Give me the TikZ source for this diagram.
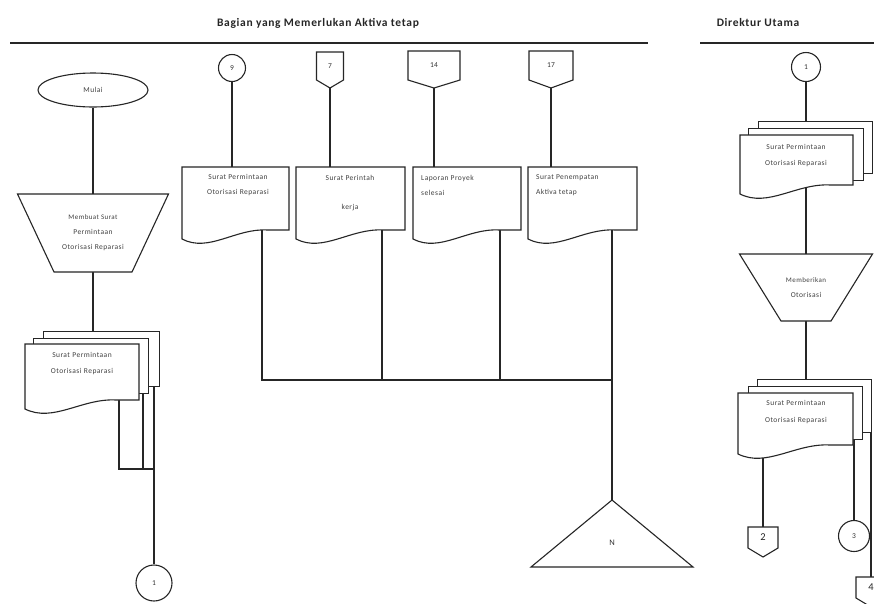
\documentclass[tikz,border=0pt]{standalone}
\usepackage{fontspec}
\setmainfont{Carlito}
\usetikzlibrary{calc,shapes.geometric}
\pgfdeclarelayer{bg}
\pgfsetlayers{bg,main}

\tikzset{
  ln/.style={line width=1.1pt, draw=black!85},
  txt/.style={font=\fontsize{7.5}{15}\selectfont\addfontfeature{LetterSpace=6}, text=black!75, align=center, inner sep=0pt},
  num/.style={font=\fontsize{7.5}{9}\selectfont, text=black!80, inner sep=0pt},
  bignum/.style={font=\fontsize{10.5}{12}\selectfont, text=black!85, inner sep=0pt},
  ttl/.style={font=\fontsize{11.5}{13}\selectfont\bfseries\addfontfeature{LetterSpace=6}, text=black!85, inner sep=0pt},
  circ/.style={ln, circle, fill=white, inner sep=0pt, num},
  sheet/.style={ln, fill=white, rectangle, inner sep=0pt, anchor=north west},
  hidden/.style={inner sep=0pt, outer sep=0pt}
}

% document symbol: name, left, top, width, height of the left edge
\newcommand\docsheet[5]{%
  \node[hidden, minimum width=#4pt, minimum height=#5pt, anchor=north west] (#1) at (#2,#3) {};
  \draw[ln, fill=white] (#1.north west) -- (#1.north east) -- ($(#1.south east)+(0,9pt)$)
    -- ($(#1.south west)!0.8!(#1.south east)+(0,9pt)$)
    .. controls ($(#1.south west)!0.5!(#1.south east)+(0,11pt)$)
       and ($(#1.south west)!0.25!(#1.south east)+(0,-14pt)$) .. (#1.south west) -- cycle;
}
% manual operation: name, cx, cy, top width, bottom width, height, text
\newcommand\manualop[7]{%
  \draw[ln, fill=white] (#2-#4/2,#3-#6/2) -- (#2+#4/2,#3-#6/2) -- (#2+#5/2,#3+#6/2) -- (#2-#5/2,#3+#6/2) -- cycle;
  \node[hidden, txt, minimum width=#4pt, minimum height=#6pt] (#1) at (#2,#3) {#7};
}
% off-page connector: name, cx, top, width, box height, point depth, style, text
\newcommand\offpage[8]{%
  \draw[ln, fill=white] (#2-#4/2,#3) -- (#2+#4/2,#3) -- (#2+#4/2,#3+#5) -- (#2,#3+#5+#6) -- (#2-#4/2,#3+#5) -- cycle;
  \node[hidden, #7, minimum width=#4pt, minimum height=#5pt, anchor=north] (#1) at (#2,#3) {#8};
}

\begin{document}
\begin{tikzpicture}[x=1pt, y=-1pt]
\useasboundingbox (0,0) rectangle (874,603);
\begin{pgfonlayer}{bg}
  \fill[white] (0,0) rectangle (874,603);
\end{pgfonlayer}

% lane headers
\node[ttl] (lane1) at (318,23) {Bagian yang Memerlukan Aktiva tetap};
\node[ttl] (lane2) at (758,23) {Direktur Utama};
\draw[ln] (10,43) -- (648,43);
\draw[ln] (700,43) -- (874,43);

% ---- left column ----
\node[ln, ellipse, fill=white, minimum width=110pt, minimum height=34pt, txt] (mulai) at (93,90) {Mulai};
\manualop{trap1}{93}{233}{151}{78}{78}{\fontsize{7}{13.5}\selectfont Membuat Surat\\Permintaan\\Otorisasi Reparasi}
\node[sheet, minimum width=116pt, minimum height=55pt] (lback) at (43,331) {};
\node[sheet, minimum width=115pt, minimum height=55pt] (lmid) at (33,338) {};
\docsheet{lfront}{25}{344}{114}{65}
\node[txt, text width=110pt, font=\fontsize{7.5}{16}\selectfont\addfontfeature{LetterSpace=6}] (lfronttext) at (82,364) {Surat Permintaan\\Otorisasi Reparasi};
\node[circ, minimum size=36pt] (c1) at (154,583) {1};

% ---- incoming documents ----
\node[circ, minimum size=27pt] (c9) at (232,68) {9};
\offpage{op7}{330}{52}{27}{28}{8}{num}{7}
\offpage{op14}{434}{51}{52}{29}{8}{num}{14}
\offpage{op17}{551}{51}{44}{29}{8}{num}{17}

\docsheet{doc1}{182}{167}{107}{72}
\docsheet{doc2}{296}{167}{109}{72}
\docsheet{doc3}{413}{167}{108}{72}
\docsheet{doc4}{528}{167}{109}{72}
\node[txt] (doc1text) at (238,185.5) {Surat Permintaan\\Otorisasi Reparasi};
\node[txt] (doc2text) at (350,193.5) {Surat Perintah\\[14pt]kerja};
\node[txt, anchor=west, align=left] (doc3text) at (421,185.5) {Laporan Proyek\\selesai};
\node[txt, anchor=west, align=left] (doc4text) at (536,185.5) {Surat Penempatan\\Aktiva tetap};

% file symbol
\draw[ln, fill=white] (612,500) -- (693,567) -- (531,567) -- cycle;
\coordinate (apex) at (612,500);
\node[num, font=\fontsize{8.5}{10}\selectfont] (tri) at (612,543) {N};

% ---- right column ----
\node[circ, minimum size=29pt] (c1r) at (806,67) {1};
\node[sheet, minimum width=114pt, minimum height=52pt] (rback) at (758,121) {};
\node[sheet, minimum width=115pt, minimum height=52pt] (rmid) at (748,128) {};
\docsheet{rfront}{740}{135}{113}{59}
\node[txt, font=\fontsize{7.5}{16}\selectfont\addfontfeature{LetterSpace=6}] (rfronttext) at (796,156) {Surat Permintaan\\Otorisasi Reparasi};
\manualop{trap2}{806}{287.5}{133}{50}{67}{\fontsize{7}{14}\selectfont Memberikan\\Otorisasi}

\node[sheet, minimum width=114pt, minimum height=53pt] (r2back) at (757,379) {};
\node[sheet, minimum width=114pt, minimum height=53pt] (r2mid) at (748,386) {};
\docsheet{r2front}{738}{393}{115}{61}
\node[txt, font=\fontsize{7.5}{17}\selectfont\addfontfeature{LetterSpace=6}] (r2fronttext) at (796,412) {Surat Permintaan\\Otorisasi Reparasi};

\offpage{op2}{763}{527}{30}{21}{9}{bignum}{2}
\node[circ, minimum size=31pt] (c3) at (854,536) {3};
\offpage{op4}{871}{577}{30}{21}{9}{bignum}{4}

% ---- connectors ----
\begin{pgfonlayer}{bg}
  \draw[ln] (mulai) -- (trap1);
  \draw[ln] (trap1) -- (trap1 |- lback.north);
  \coordinate (lj1) at (119,469);
  \coordinate (lj2) at (143,469);
  \coordinate (lj3) at (154,469);
  \draw[ln] (lfront.center -| lj1) -- (lj1) -- (lj3);
  \draw[ln] (lmid.center -| lj2) -- (lj2);
  \draw[ln] (lback.center -| lj3) -- (lj3) -- (c1);

  \draw[ln] (c9) -- (c9 |- doc1.north);
  \draw[ln] (op7) -- (op7 |- doc2.north);
  \draw[ln] (op14) -- (op14 |- doc3.north);
  \draw[ln] (op17) -- (op17 |- doc4.north);
  \coordinate (b1) at (262,380);
  \coordinate (b2) at (382,380);
  \coordinate (b3) at (500,380);
  \coordinate (b4) at (612,380);
  \draw[ln] (doc1.center -| b1) -- (b1) -- (b4);
  \draw[ln] (doc2.center -| b2) -- (b2);
  \draw[ln] (doc3.center -| b3) -- (b3);
  \draw[ln] (doc4.center -| b4) -- (b4) -- (apex);

  \draw[ln] (c1r) -- (c1r |- rback.north);
  \draw[ln] (rfront.center -| trap2) -- (trap2);
  \draw[ln] (trap2) -- (trap2 |- r2back.north);
  \draw[ln] (r2front.center -| op2) -- (op2);
  \draw[ln] (r2mid.center -| c3) -- (c3);
  \draw[ln] (r2back.center -| op4) -- (op4);
\end{pgfonlayer}
\end{tikzpicture}
\end{document}
